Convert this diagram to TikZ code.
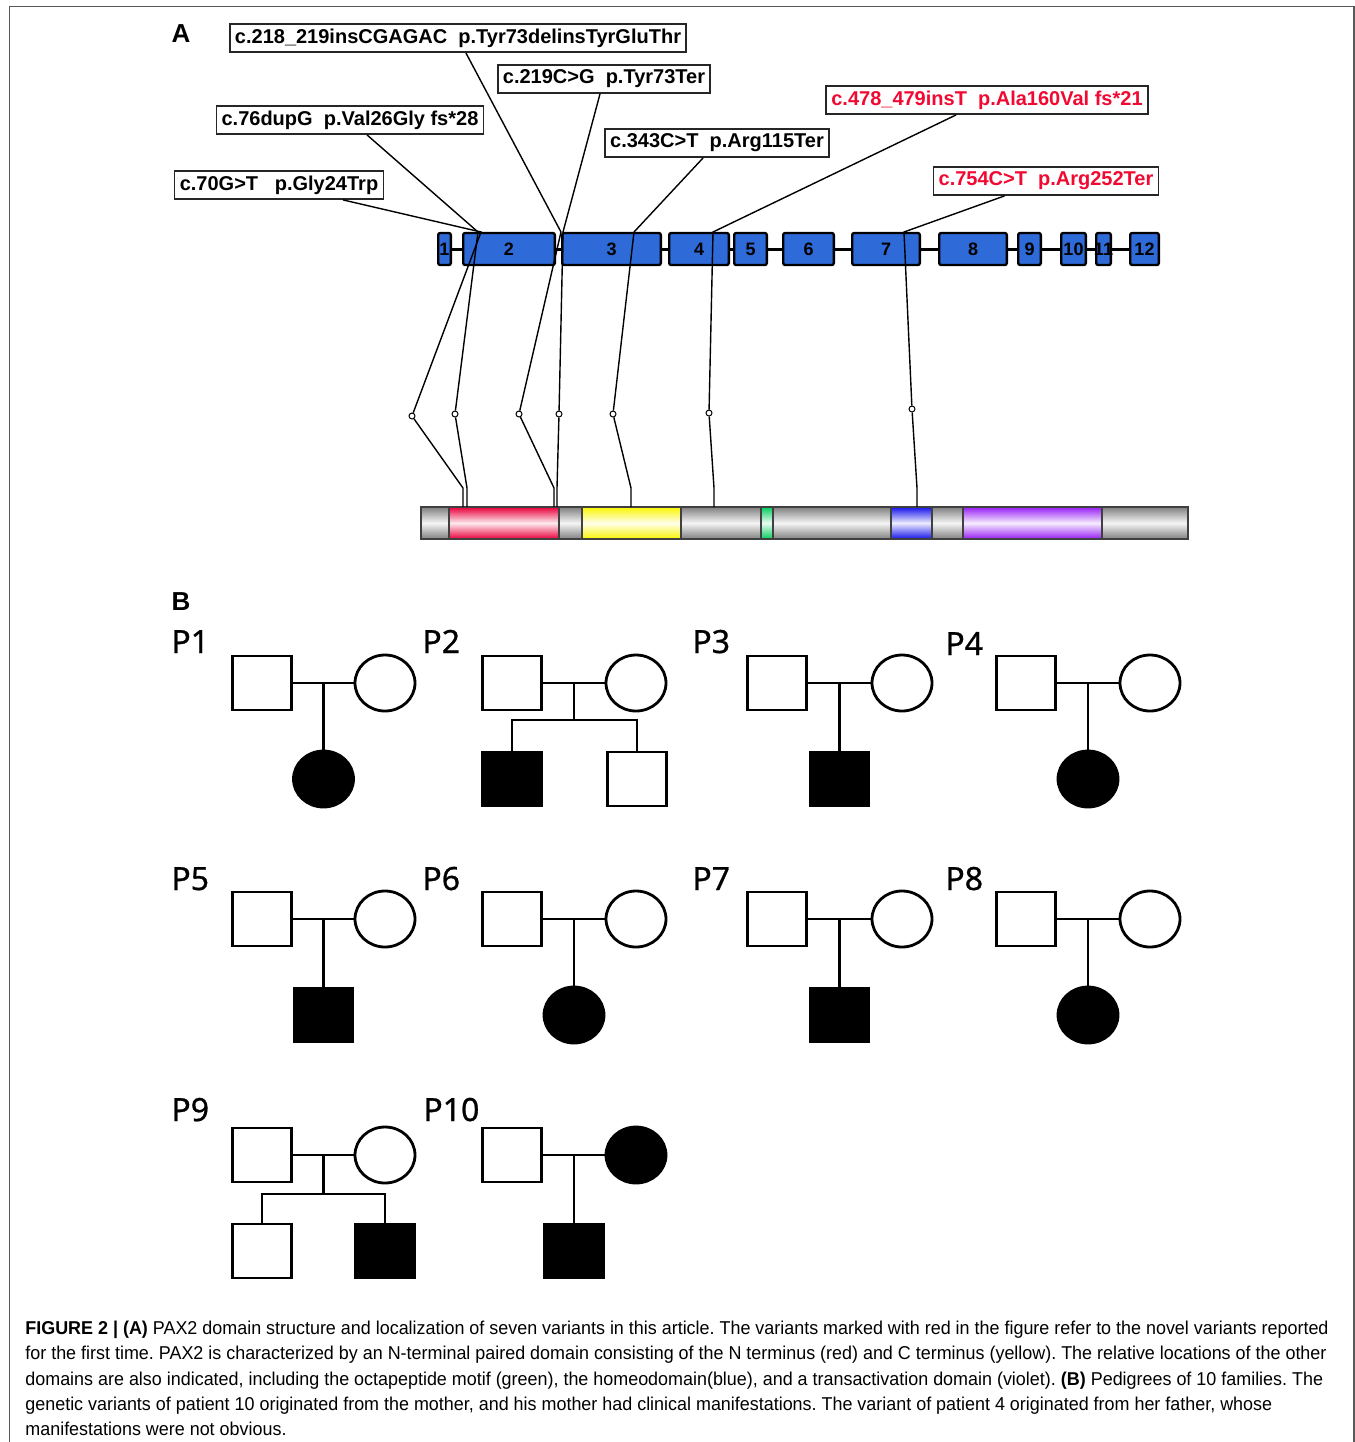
\documentclass[tikz,border=0pt]{standalone}
\usepackage{fontspec}
\setmainfont{Liberation Sans}
\newfontfamily\capfont[FakeStretch=0.964]{Liberation Sans}
\newfontfamily\pedfont[FakeBold=0.8]{Noto Sans}
\usetikzlibrary{shapes.geometric, positioning, calc}
\frenchspacing

\definecolor{exonblue}{RGB}{46,106,216}
\definecolor{novelred}{RGB}{240,10,50}
\definecolor{nterm}{RGB}{232,0,58}
\definecolor{cterm}{RGB}{250,245,0}
\definecolor{octa}{RGB}{0,205,90}
\definecolor{homeo}{RGB}{20,20,235}
\definecolor{transact}{RGB}{150,30,245}
\definecolor{bargrey}{RGB}{128,128,128}

\begin{document}
\begin{tikzpicture}[x=0.5pt, y=-0.5pt,
    mut/.style={rectangle, draw=black!85, line width=0.9pt, fill=white, inner xsep=2.6pt, inner ysep=0pt, minimum height=14pt, font=\bfseries\fontsize{10}{12}\selectfont},
    novel/.style={mut, text=novelred},
    exon/.style={rectangle, draw=black, line width=1.2pt, fill=exonblue, rounded corners=1pt, inner sep=0pt, minimum height=16pt, font=\bfseries\fontsize{9}{10}\selectfont},
    lead/.style={line width=0.7pt},
    kink/.style={circle, draw, fill=white, line width=0.5pt, inner sep=0pt, minimum size=3pt},
    seg/.style={draw=black!75, line width=0.6pt},
    male/.style={rectangle, draw, line width=1.4pt, minimum width=29.5pt, minimum height=27pt},
    female/.style={ellipse, draw, line width=1.4pt, minimum width=30pt, minimum height=28pt},
    ill/.style={fill=black},
    kin/.style={line width=1.4pt},
    panel/.style={font=\bfseries\fontsize{13}{15}\selectfont},
    fam/.style={font=\pedfont\fontsize{16}{18}\selectfont, anchor=base west, inner sep=0pt},
    capline/.style={font=\capfont\fontsize{9.3}{11}\selectfont, anchor=base west, inner sep=0pt}
]
\useasboundingbox (0,0) rectangle (1355,1442);
\draw[black!65, line width=0.8pt] (9.5,1442) -- (9.5,6.5) -- (1354,6.5) -- (1354,1442);

% Panel A: exons
\node[panel] (pa) at (181,34) {A};
\foreach \n/\a/\b in {1/437/452, 2/462/556, 3/561/662, 4/668/730, 5/733/768, 6/782/835,
    7/851/921, 8/938/1008, 9/1017/1042, 10/1060/1087, 11/1095/1112, 12/1129/1160}
  \node[exon, minimum width={(\b-\a)*0.5pt-1.2pt}] (e\n) at ({(\a+\b)/2},249) {\makebox[0pt]{\n}};
\foreach \i [count=\j from 2] in {1,...,11}
  \draw[line width=1.5pt] (e\i) -- (e\j);

% Panel A: protein domains
\foreach \a/\b/\c in {421/449/bargrey, 449/559/nterm, 559/582/bargrey, 582/681/cterm,
    681/761/bargrey, 761/773/octa, 773/891/bargrey, 891/932/homeo, 932/963/bargrey,
    963/1102/transact, 1102/1188/bargrey}
  \draw[seg, top color=\c, bottom color=\c, middle color=\c!8] (\a,507) rectangle (\b,539);

% Panel A: variants
\node[mut] (lab1) at (279,185) {c.70G>T\ \ \ p.Gly24Trp};
\node[mut] (lab2) at (350,120) {c.76dupG\ \ p.Val26Gly fs*28};
\node[mut] (lab3) at (458,38) {c.218\_219insCGAGAC\ \ p.Tyr73delinsTyrGluThr};
\node[mut] (lab4) at (604,79) {c.219C>G\ \ p.Tyr73Ter};
\node[mut] (lab5) at (717,143) {c.343C>T\ \ p.Arg115Ter};
\node[novel] (lab6) at (987,100) {c.478\_479insT\ \ p.Ala160Val fs*21};
\node[novel] (lab7) at (1046,181) {c.754C>T\ \ p.Arg252Ter};

\foreach \i/\tx/\kx/\ky/\dx in {1/481/412/416/463, 2/478/455/414/467, 3/561/519/414/554,
    4/563/559/414/557, 5/634/613/414/631, 6/713/709/413/714, 7/904/912/409/917} {
  \coordinate (t\i) at (\tx,232);
  \node[kink] (k\i) at (\kx,\ky) {};
  \coordinate (d\i) at (\dx,488);
  \coordinate (p\i) at (\dx,507);
  \draw[lead] (lab\i) -- (t\i) -- (k\i) -- (d\i) -- (p\i);
}

% Panel B: pedigrees
\node[panel] (pb) at (181,602) {B};
\foreach \id/\lx/\ly in {1/171/653, 2/422/653, 3/692/653, 4/945/655, 5/171/890,
    6/422/890, 7/692/890, 8/945/890, 9/171/1121, 10/423/1121}
  \node[fam] (lp\id) at (\lx,\ly) {P\id};

% one affected child
\foreach \id/\fx/\wx/\py/\kid in {1/262/385/683/female, 3/777/902/683/male,
    4/1026/1150/683/female, 5/262/385/919/male, 6/512/636/919/female,
    7/777/902/919/male, 8/1026/1150/919/female} {
  \node[male] (f\id) at (\fx,\py) {};
  \node[female] (w\id) at (\wx,\py) {};
  \coordinate (j\id) at ($(f\id)!0.5!(w\id)$);
  \node[\kid, ill] (c\id) at ($(j\id)+(0,96)$) {};
  \draw[kin] (f\id) -- (w\id);
  \draw[kin] (j\id) -- (c\id);
}

% P2
\node[male] (f2) at (512,683) {};
\node[female] (w2) at (636,683) {};
\coordinate (j2) at ($(f2)!0.5!(w2)$);
\coordinate (s2) at (574,720);
\node[male, ill] (c2a) at (512,779) {};
\node[male] (c2b) at (637,779) {};
\draw[kin] (f2) -- (w2);
\draw[kin] (j2) -- (s2);
\draw[kin] (c2a.north) |- (s2) -| (c2b.north);

% P9
\node[male] (f9) at (262,1155) {};
\node[female] (w9) at (385,1155) {};
\coordinate (j9) at ($(f9)!0.5!(w9)$);
\coordinate (s9) at (323.5,1194);
\node[male] (c9a) at (262,1251) {};
\node[male, ill] (c9b) at (385,1251) {};
\draw[kin] (f9) -- (w9);
\draw[kin] (j9) -- (s9);
\draw[kin] (c9a.north) |- (s9) -| (c9b.north);

% P10
\node[male] (f10) at (512,1155) {};
\node[female, ill] (w10) at (636,1155) {};
\coordinate (j10) at ($(f10)!0.5!(w10)$);
\node[male, ill] (c10) at ($(j10)+(0,96)$) {};
\draw[kin] (f10) -- (w10);
\draw[kin] (j10) -- (c10);

% caption
\node[capline] (cap1) at (25,1334) {\textbf{FIGURE 2 | (A)} PAX2 domain structure and localization of seven variants in this article. The variants marked with red in the figure refer to the novel variants reported};
\node[capline] (cap2) at (25,1359.5) {for the first time. PAX2 is characterized by an N-terminal paired domain consisting of the N terminus (red) and C terminus (yellow). The relative locations of the other};
\node[capline] (cap3) at (25,1385) {domains are also indicated, including the octapeptide motif (green), the homeodomain(blue), and a transactivation domain (violet). \textbf{(B)} Pedigrees of 10 families. The};
\node[capline] (cap4) at (25,1410) {genetic variants of patient 10 originated from the mother, and his mother had clinical manifestations. The variant of patient 4 originated from her father, whose};
\node[capline] (cap5) at (25,1435.5) {manifestations were not obvious.};
\end{tikzpicture}
\end{document}
